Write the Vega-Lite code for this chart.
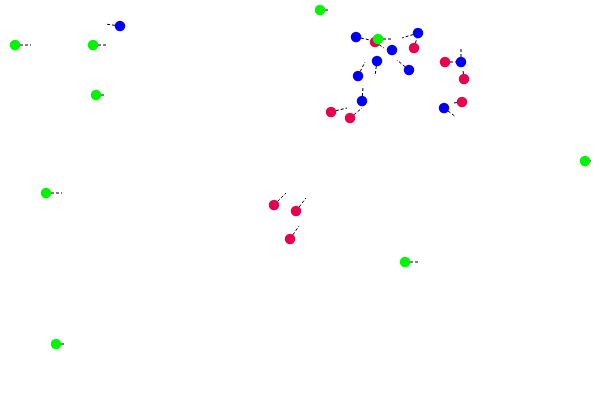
{
  "$schema": "https://vega.github.io/schema/vega-lite/v6.json",
  "width": 600,
  "height": 400,
  "autosize": "none",
  "padding": 0,
  "background": "white",
  "config": {"view": {"stroke": null}},
  "data": {"values": [
    {"group": "green", "x": 320, "y": 10, "tx": 329, "ty": 10},
    {"group": "green", "x": 15, "y": 45, "tx": 31, "ty": 45},
    {"group": "green", "x": 93, "y": 45, "tx": 108, "ty": 45},
    {"group": "green", "x": 96, "y": 95, "tx": 104, "ty": 95},
    {"group": "green", "x": 46, "y": 193, "tx": 62, "ty": 193},
    {"group": "green", "x": 56, "y": 344, "tx": 64, "ty": 344},
    {"group": "green", "x": 405, "y": 262, "tx": 420, "ty": 262},
    {"group": "green", "x": 585, "y": 161, "tx": 591, "ty": 161},
    {"group": "red", "x": 375, "y": 42, "tx": 384, "ty": 48},
    {"group": "green", "x": 378, "y": 39, "tx": 392, "ty": 39},
    {"group": "blue", "x": 120, "y": 26, "tx": 105, "ty": 24},
    {"group": "blue", "x": 356, "y": 37, "tx": 370, "ty": 40},
    {"group": "blue", "x": 418, "y": 33, "tx": 402, "ty": 38},
    {"group": "blue", "x": 392, "y": 50, "tx": 392, "ty": 50},
    {"group": "blue", "x": 377, "y": 61, "tx": 375, "ty": 76},
    {"group": "blue", "x": 409, "y": 70, "tx": 397, "ty": 60},
    {"group": "blue", "x": 358, "y": 76, "tx": 365, "ty": 62},
    {"group": "blue", "x": 362, "y": 101, "tx": 363, "ty": 87},
    {"group": "blue", "x": 461, "y": 62, "tx": 461, "ty": 47},
    {"group": "blue", "x": 444, "y": 108, "tx": 456, "ty": 117},
    {"group": "red", "x": 414, "y": 48, "tx": 417, "ty": 38},
    {"group": "red", "x": 445, "y": 62, "tx": 457, "ty": 62},
    {"group": "red", "x": 464, "y": 79, "tx": 463, "ty": 70},
    {"group": "red", "x": 462, "y": 102, "tx": 453, "ty": 103},
    {"group": "red", "x": 331, "y": 112, "tx": 347, "ty": 108},
    {"group": "red", "x": 350, "y": 118, "tx": 362, "ty": 108},
    {"group": "red", "x": 274, "y": 205, "tx": 286, "ty": 193},
    {"group": "red", "x": 296, "y": 211, "tx": 306, "ty": 198},
    {"group": "red", "x": 290, "y": 239, "tx": 299, "ty": 226}
  ]},
  "encoding": {
    "x": {"field": "x", "type": "quantitative", "scale": {"domain": [0, 600], "nice": false, "zero": false}, "axis": null},
    "y": {"field": "y", "type": "quantitative", "scale": {"domain": [0, 400], "reverse": true, "nice": false, "zero": false}, "axis": null}
  },
  "layer": [
    {
      "mark": {"type": "rule", "color": "black", "strokeWidth": 1, "strokeDash": [3, 2]},
      "encoding": {
        "x2": {"field": "tx"},
        "y2": {"field": "ty"}
      }
    },
    {
      "mark": {"type": "point", "filled": true, "opacity": 1, "size": 110, "shape": "circle"},
      "encoding": {
        "color": {"field": "group", "type": "nominal", "scale": {"domain": ["green", "blue", "red"], "range": ["#00f500", "#0000f5", "#e6004e"]}, "legend": null}
      }
    }
  ]
}
